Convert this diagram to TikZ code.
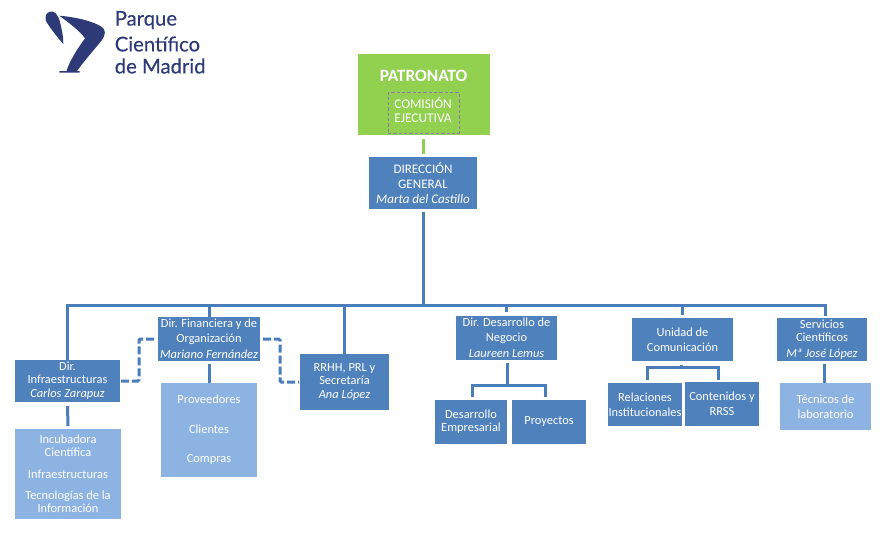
\documentclass[tikz,border=0pt]{standalone}
\usepackage{fontspec}
\setmainfont{Carlito}
\newfontfamily\logofont[FakeBold=0.35]{Lato}
\usetikzlibrary{calc}
\definecolor{boxblue}{HTML}{4F81BD}
\definecolor{lineblue}{HTML}{4A7EBB}
\definecolor{lightblue}{HTML}{8DB3E2}
\definecolor{patgreen}{HTML}{92D050}
\definecolor{logoblue}{HTML}{2E3A78}
\definecolor{dashpurple}{HTML}{8C7CA8}
\tikzset{
  basebox/.style={inner sep=0pt,outer sep=0pt,align=center,text=white,font=\fontsize{9.3}{11}\selectfont},
  dark/.style={basebox,fill=boxblue},
  light/.style={basebox,fill=lightblue},
  green/.style={basebox,fill=patgreen},
  conn/.style={draw=lineblue,line width=2.25pt},
  dashconn/.style={conn,dash pattern=on 6pt off 2.2pt,rounded corners=1pt},
  logotext/.style={anchor=west,text=logoblue,inner sep=0pt,font=\logofont\fontsize{15.2}{18}\selectfont}
}
\newcommand{\bx}[7]{%
  \pgfmathsetmacro{\bw}{(#4-#2)*0.75}\pgfmathsetmacro{\bh}{(#5-#3)*0.75}%
  \pgfmathsetmacro{\cx}{(#2+#4)/2}\pgfmathsetmacro{\cy}{(#3+#5)/2}%
  \node[#6,minimum width=\bw pt,minimum height=\bh pt] (#1) at (\cx,\cy) {#7};}
\begin{document}
\begin{tikzpicture}[x=0.75pt,y=-0.75pt]
\useasboundingbox (0,0) rectangle (887,533);
% logo
\fill[logoblue] (50,11.7) .. controls (54,10.5) and (58,14) .. (60,22) .. controls (62,30) and (63.5,38) .. (63.3,44) .. controls (58,38) and (50,28) .. (46,21) .. controls (44.5,16) and (46.5,12.5) .. (50,11.7) -- cycle;
\fill[logoblue] (59.3,15.7) .. controls (75,17) and (93,21) .. (102,27) .. controls (106,30) and (105.5,35) .. (102,40) .. controls (94,50) and (84,61) .. (77,71) -- (79.5,71) -- (79.5,72.7) -- (59.3,72.7) -- (59.3,71) -- (66.5,71) .. controls (70,60) and (78,48) .. (85,38.3) .. controls (80,31) and (68,22) .. (59.3,15.7) -- cycle;
\node[logotext] (l1) at (114.5,20) {Parque};
\node[logotext] (l2) at (114.5,44) {Científico};
\node[logotext] (l3) at (114.5,66) {de Madrid};
% boxes
\bx{pat}{358}{54}{490}{135}{green}{}
\node[basebox,font=\bfseries\fontsize{13}{15}\selectfont] (pattext) at (423.5,76) {PATRONATO};
\bx{com}{388}{92.5}{459}{133}{basebox,draw=dashpurple,line width=0.6pt,dash pattern=on 2.5pt off 1.5pt}{}
\node[basebox,font=\fontsize{10}{10.5}\selectfont] (comtext) at (423,110) {COMISIÓN\\EJECUTIVA};
\bx{dg}{369}{157}{477}{209}{dark,font=\fontsize{9.8}{11}\selectfont}{DIRECCIÓN\\GENERAL\\\textit{Marta del Castillo}}
\bx{infra}{15}{360}{120}{402}{dark}{Dir.\\[-1.5pt]Infraestructuras\\\textit{Carlos Zarapuz}}
\bx{incub}{15}{429}{121}{519}{light}{Incubadora\\[-1pt]Científica\\[5pt]Infraestructuras\\[5pt]Tecnologías de la\\[-1pt]Información}
\bx{fin}{158}{317}{260}{361}{dark}{Dir. Financiera y de\\Organización\\[1pt]\textit{Mariano Fernández}}
\bx{prov}{161}{383}{257}{477}{light}{Proveedores\\[11pt]Clientes\\[11pt]Compras}
\bx{rrhh}{300}{354}{389}{410}{dark}{RRHH, PRL y\\[-1pt]Secretaría\\[-1pt]\textit{Ana López}}
\bx{ddn}{456}{316}{557}{360}{dark}{Dir. Desarrollo de\\Negocio\\[1pt]\textit{Laureen Lemus}}
\bx{emp}{435}{400}{507}{444}{dark}{Desarrollo\\[-1pt]Empresarial}
\bx{proy}{512}{400}{586}{444}{dark}{Proyectos}
\bx{uni}{632}{318}{733}{361}{dark}{Unidad de\\Comunicación}
\bx{rel}{608}{383}{682}{426}{dark}{Relaciones\\Institucionales}
\bx{cont}{685}{382}{759}{426}{dark}{Contenidos y\\RRSS}
\bx{serv}{777}{318}{867}{361}{dark}{Servicios\\[-1pt]Científicos\\[1pt]\textit{Mª José López}}
\bx{tec}{780}{383}{871}{430}{light}{Técnicos de\\laboratorio}
% connector points
\coordinate (bus) at (423,305);
\coordinate (busL) at (67.5,305);
\coordinate (busR) at (825,305);
\coordinate (servtop) at (825,318);
\coordinate (inftop) at (67.5,360);
\coordinate (ddnfork) at (507,385);
\coordinate (unifork) at (681,367);
% connectors
\draw[draw=patgreen,line width=2.25pt] (pat.south -| dg.north) ++(0,4) -- ($(dg.north)+(0,-3)$);
\draw[conn] ($(dg.south)+(0,3)$) -- (bus);
\draw[conn] (inftop) -- (busL) -- (busR) -- ($(servtop)+(0,-2)$);
\draw[conn] (bus -| fin.north) -- (fin.north);
\draw[conn] (bus -| rrhh.north) -- (rrhh.north);
\draw[conn] (bus -| ddn.north) -- ($(ddn.north)+(0,-4)$);
\draw[conn] (bus -| uni.north) -- ($(uni.north)+(0,-3)$);
\draw[conn] ($(infra.south)+(0,4)$) -- ($(incub.north)+(0,-3)$);
\draw[conn] ($(fin.south)+(0,3)$) -- (prov.north);
\draw[conn] ($(serv.south)+(2,3)$) -- ($(tec.north)+(-1.5,0)$);
\draw[conn] ($(ddn.south)+(0.5,3)$) -- (ddnfork);
\draw[conn] ($(emp.north)+(1,-3)$) |- (ddnfork) -| ($(proy.north)+(-4,-3)$);
\draw[conn] ($(uni.south)+(-1.5,4)$) -- (unifork);
\draw[conn] ($(rel.north)+(2,-3)$) |- (unifork) -| ($(cont.north)+(-4,-2)$);
\draw[dashconn] ($(infra.east)+(1,0)$) -| (139,339) -- ($(fin.west |- 339,339)+(-2,0)$);
\draw[dashconn] (263,339) -| (280,382) -- ($(rrhh.west |- 300,382)+(-1,0)$);
\end{tikzpicture}
\end{document}
